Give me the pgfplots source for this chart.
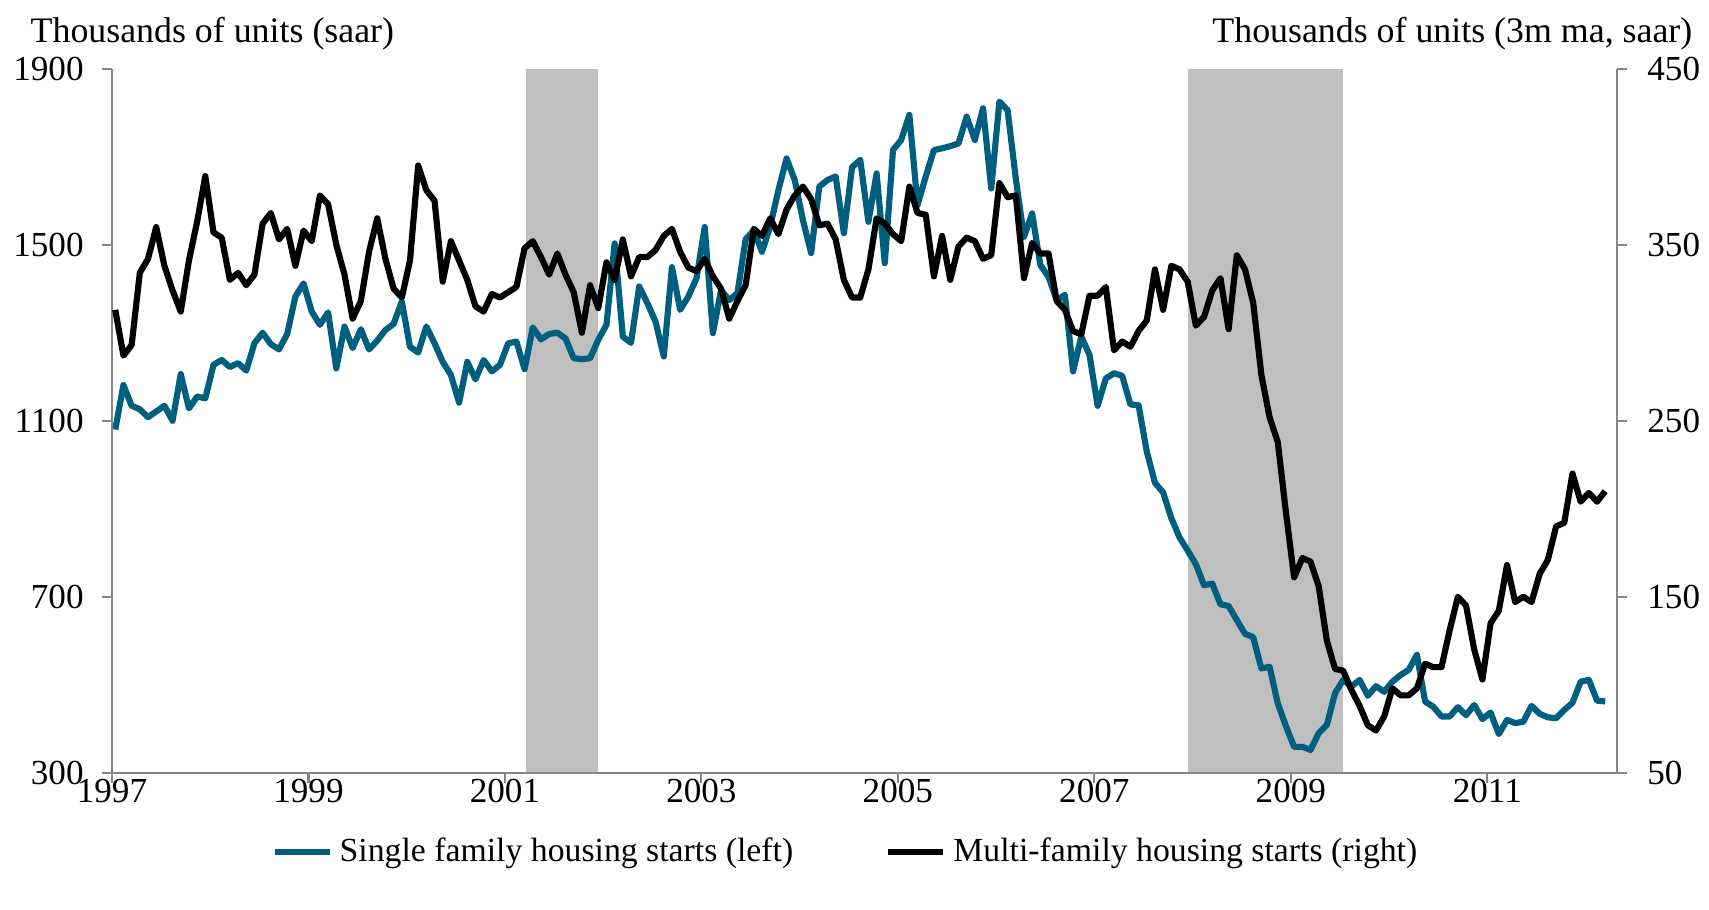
\documentclass[border=0pt]{standalone}
\usepackage{pgfplots}
\pgfplotsset{compat=1.18}
\usepackage{pgfplotstable}
\usepackage{fontspec}
\setmainfont{Liberation Serif}
\definecolor{sfteal}{RGB}{0,94,126}
\definecolor{shade}{RGB}{191,191,191}
\definecolor{axgray}{RGB}{134,134,134}

\pgfplotstableread{
i sf mf
0 1080 313
1 1181 287
2 1134 293
3 1126 334
4 1108 342
5 1121 360
6 1134 338
7 1100 324
8 1206 312
9 1128 341
10 1155 363
11 1151 389
12 1227 357
13 1238 354
14 1222 330
15 1231 334
16 1214 327
17 1276 333
18 1300 362
19 1274 368
20 1262 353
21 1297 359
22 1382 338
23 1412 358
24 1348 352
25 1318 378
26 1346 373
27 1219 350
28 1314 333
29 1265 308
30 1308 318
31 1262 346
32 1282 365
33 1306 342
34 1320 325
35 1371 320
36 1268 341
37 1255 395
38 1314 381
39 1276 375
40 1234 329
41 1204 352
42 1141 341
43 1234 330
44 1194 315
45 1238 312
46 1212 322
47 1227 320
48 1276 323
49 1280 326
50 1217 348
51 1312 352
52 1285 343
53 1297 333
54 1300 345
55 1287 333
56 1242 323
57 1240 300
58 1242 327
59 1284 314
60 1318 340
61 1503 330
62 1291 353
63 1277 332
64 1405 343
65 1367 343
66 1325 347
67 1246 355
68 1449 359
69 1352 346
70 1382 337
71 1424 335
72 1540 342
73 1299 332
74 1397 325
75 1374 308
76 1390 318
77 1512 327
78 1533 359
79 1484 355
80 1541 365
81 1624 356
82 1696 370
83 1647 378
84 1556 383
85 1481 376
86 1632 361
87 1647 362
88 1655 353
89 1526 330
90 1676 320
91 1693 320
92 1552 336
93 1662 365
94 1458 362
95 1715 356
96 1738 352
97 1795 383
98 1590 368
99 1655 367
100 1715 332
101 1719 355
102 1724 330
103 1730 349
104 1791 354
105 1738 352
106 1810 342
107 1628 344
108 1825 385
109 1806 377
110 1650 378
111 1518 331
112 1571 351
113 1454 345
114 1427 345
115 1374 318
116 1386 313
117 1212 301
118 1291 299
119 1250 321
120 1134 321
121 1196 326
122 1208 290
123 1202 295
124 1137 292
125 1135 301
126 1030 307
127 959 336
128 937 313
129 879 338
130 835 336
131 805 329
132 774 304
133 726 309
134 730 324
135 683 331
136 679 302
137 647 344
138 616 336
139 608 317
140 537 276
141 541 252
142 458 238
143 406 198
144 359 161
145 359 172
146 352 170
147 390 156
148 409 125
149 481 109
150 511 108
151 496 97
152 511 88
153 475 77
154 497 74
155 484 82
156 507 98
157 522 94
158 534 94
159 568 98
160 462 112
161 450 110
162 428 110
163 428 131
164 449 150
165 431 145
166 454 120
167 422 103
168 437 135
169 388 142
170 420 168
171 413 147
172 416 150
173 452 147
174 434 163
175 426 171
176 424 190
177 443 192
178 459 220
179 507 204
180 511 209
181 464 204
182 462 210
}\housing

\begin{document}
\begin{tikzpicture}
\useasboundingbox (0,0) rectangle (17.09cm,9.10cm);
\pgfplotsset{
  base/.style={
    at={(1.12cm,1.372cm)}, anchor=south west,
    width=15.05cm, height=7.041cm, scale only axis,
    xmin=1997, xmax=2012.32,
    tick align=outside, major tick length=0.1cm,
    tick style={axgray, line width=0.6pt},
    axis line style={axgray, line width=0.6pt},
    ticklabel style={font=\fontsize{10}{12}\selectfont},
    /pgf/number format/assume math mode=true,
    /pgf/number format/1000 sep={},
  }
}
\begin{axis}[base, ymin=300, ymax=1900,
  ytick={300,700,1100,1500,1900},
  xtick={1997,1999,...,2011},
  axis x line*=bottom, axis y line*=left,
  axis on top,
  yticklabel style={xshift=-0.06cm},
  xticklabel style={yshift=0.16cm},
]
\addplot[fill=shade, draw=none] coordinates {(2001.214,300) (2001.214,1900) (2001.945,1900) (2001.945,300)};
\addplot[fill=shade, draw=none] coordinates {(2007.955,300) (2007.955,1900) (2009.530,1900) (2009.530,300)};
\addplot[sfteal, line width=1.75pt, line join=round] table[x expr=1997+(\thisrow{i}+0.4)/12, y=sf] {\housing};
\end{axis}
\begin{axis}[base, ymin=50, ymax=450,
  ytick={50,150,250,350,450},
  axis x line=none, axis y line*=right,
  yticklabel style={xshift=0.08cm},
  legend style={at={(0.489,-0.1125)}, anchor=center, draw=none, fill=none,
    legend columns=2, font=\fontsize{9.6}{11}\selectfont,
    /tikz/every even column/.append style={column sep=0.85cm}},
  legend cell align=left,
  legend image code/.code={\draw[#1] (0cm,0cm) -- (0.55cm,0cm);},
]
\addlegendimage{sfteal, line width=1.75pt}
\addlegendentry{Single family housing starts (left)}
\addplot[black, line width=1.75pt, line join=round] table[x expr=1997+(\thisrow{i}+0.4)/12, y=mf] {\housing};
\addlegendentry{Multi-family housing starts (right)}
\end{axis}
\node[anchor=base west, font=\fontsize{10.2}{12}\selectfont, inner sep=0pt] at (0.30cm,8.67cm) {Thousands of units (saar)};
\node[anchor=base east, font=\fontsize{10.2}{12}\selectfont, inner sep=0pt] at (16.93cm,8.67cm) {Thousands of units (3m ma, saar)};
\end{tikzpicture}
\end{document}
